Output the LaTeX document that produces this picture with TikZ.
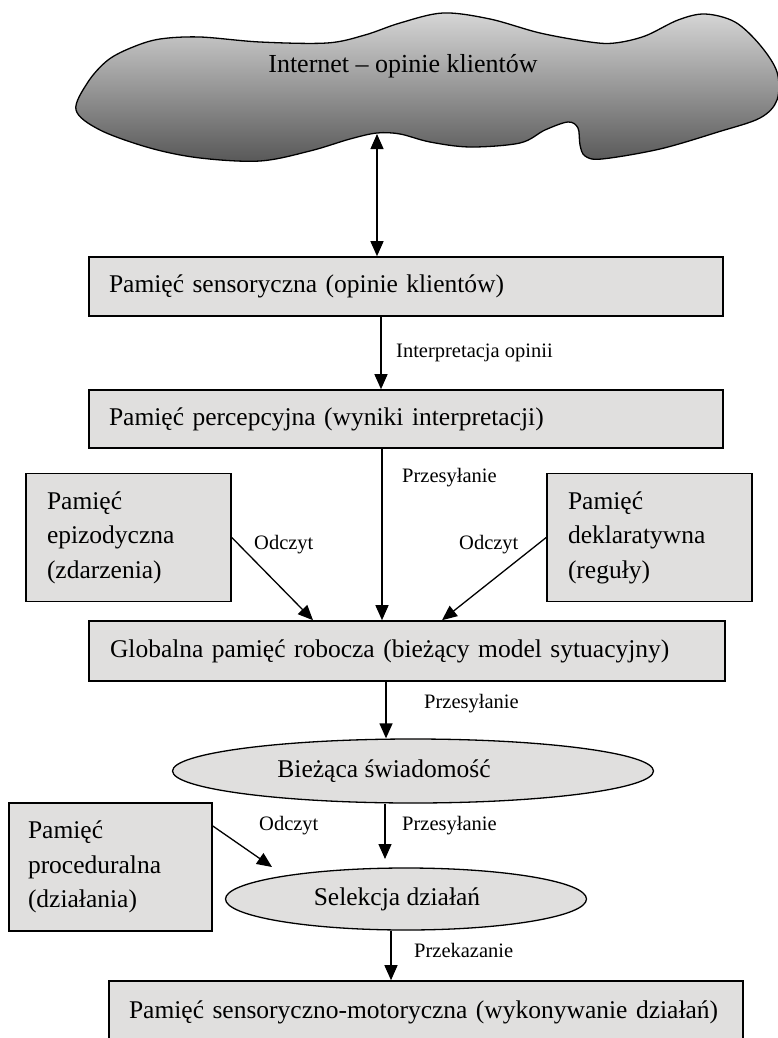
\documentclass[tikz,border=0pt]{standalone}
\usepackage{fontspec}
\setmainfont{Liberation Serif}
\usetikzlibrary{arrows.meta,shapes.geometric}
\definecolor{boxgray}{RGB}{224,223,222}
\definecolor{cloudtop}{RGB}{214,214,214}
\definecolor{cloudbot}{RGB}{88,88,88}
\newcommand\bigf{\fontsize{25.5}{34.5}\selectfont}
\newcommand\cloudf{\fontsize{26}{30}\selectfont}
\newcommand\lblf{\fontsize{20.5}{24}\selectfont}
\begin{document}
\begin{tikzpicture}[x=1pt,y=-1pt,
  membox/.style={draw=black, fill=boxgray, line width=1.6pt, inner xsep=20pt, inner ysep=0pt, align=left, font=\bigf, anchor=center},
  memell/.style={draw=black, fill=boxgray, line width=1.3pt, ellipse, inner sep=0pt, font=\bigf},
  lbl/.style={anchor=west, font=\lblf, inner sep=0pt},
  arr/.style={line width=1.3pt, -{Triangle[length=15pt,width=13pt]}},
  darr/.style={line width=1.3pt, {Triangle[length=15pt,width=13pt]}-{Triangle[length=15pt,width=13pt]}}]
\useasboundingbox (0,0) rectangle (778,1038);
% cloud
\shadedraw[top color=cloudtop, bottom color=cloudbot, draw=black, line width=1.3pt]
  plot[smooth cycle, tension=0.55] coordinates {
  (76,110) (88,82) (108,60) (133,47) (160,39) (200,37) (260,42) (327,43)
  (365,35) (400,23) (443,13) (490,19) (540,33) (590,42) (615,43) (645,36)
  (678,20) (705,14) (735,22) (760,45) (777,72) (777,100) (760,118) (718,132)
  (660,149) (602,159) (585,156) (580,145) (578,128) (568,122) (545,130) (520,143)
  (470,147) (430,142) (400,134) (377,133) (350,139) (310,151) (260,161) (200,158)
  (150,148) (100,130)};
\node[font=\cloudf, anchor=base] (inet) at (403,73) {Internet – opinie klientów};
\coordinate (dip) at (377,134);
% boxes
\node[membox, minimum width=634pt, minimum height=59pt, text width=594pt] (s1) at (406,286.5) {\mbox{Pamięć sensoryczna (opinie klientów)}};
\node[membox, minimum width=634pt, minimum height=58pt, text width=594pt] (s2) at (406,419) {\mbox{Pamięć percepcyjna (wyniki interpretacji)}};
\node[membox, minimum width=205pt, minimum height=128pt, text width=163pt, inner xsep=21pt] (epi) at (128.5,537.5) {Pamięć\\epizodyczna\\(zdarzenia)};
\node[membox, minimum width=205pt, minimum height=128pt, text width=163pt, inner xsep=21pt] (dek) at (649.5,537.5) {Pamięć\\deklaratywna\\(reguły)};
\node[membox, minimum width=636pt, minimum height=60pt, text width=594pt, inner xsep=21pt] (glob) at (407,651) {\mbox{Globalna pamięć robocza (bieżący model sytuacyjny)}};
\node[memell, minimum width=481pt, minimum height=64pt] (bie) at (413,771) {Bieżąca świadomość\kern58pt};
\node[membox, minimum width=203pt, minimum height=128pt, text width=165pt, inner xsep=19pt] (proc) at (110.5,867) {Pamięć\\proceduralna\\(działania)};
\node[memell, minimum width=361pt, minimum height=62pt] (sel) at (406,899) {Selekcja działań\kern18pt};
\node[membox, minimum width=634pt, minimum height=62pt, text width=594pt] (last) at (426,1012) {\mbox{Pamięć sensoryczno-motoryczna (wykonywanie działań)}};
% end points
\coordinate (selin) at (385,859);
\coordinate (procin) at (272,867);
% connectors
\draw[darr] (dip) -- (dip |- s1.north);
\draw[arr] ([xshift=-25pt]s1.south) -- ([xshift=-25pt]s2.north);
\draw[arr] ([xshift=-24pt]s2.south) -- ([xshift=-24pt]s2.south |- glob.north);
\draw[arr] (epi.east) -- ([xshift=-94pt]glob.north);
\draw[arr] (dek.west) -- ([xshift=35pt]glob.north);
\draw[arr] ([xshift=-21pt]glob.south) -- ([xshift=-21pt]glob.south |- bie.north);
\draw[arr] ([xshift=-28pt]bie.south) -- (selin);
\draw[arr] ([yshift=41pt]proc.east) -- (procin);
\draw[arr] ([xshift=-15pt]sel.south) -- ([xshift=-15pt]sel.south |- last.north);
% labels
\node[lbl] (l1) at (396,353) {Interpretacja opinii};
\node[lbl] (l2) at (402,478) {Przesyłanie};
\node[lbl] (l3) at (254,545) {Odczyt};
\node[lbl] (l4) at (459,545) {Odczyt};
\node[lbl] (l5) at (424,704) {Przesyłanie};
\node[lbl] (l6) at (402,826) {Przesyłanie};
\node[lbl] (l7) at (259,826) {Odczyt};
\node[lbl] (l8) at (414,950) {Przekazanie};
\end{tikzpicture}
\end{document}
